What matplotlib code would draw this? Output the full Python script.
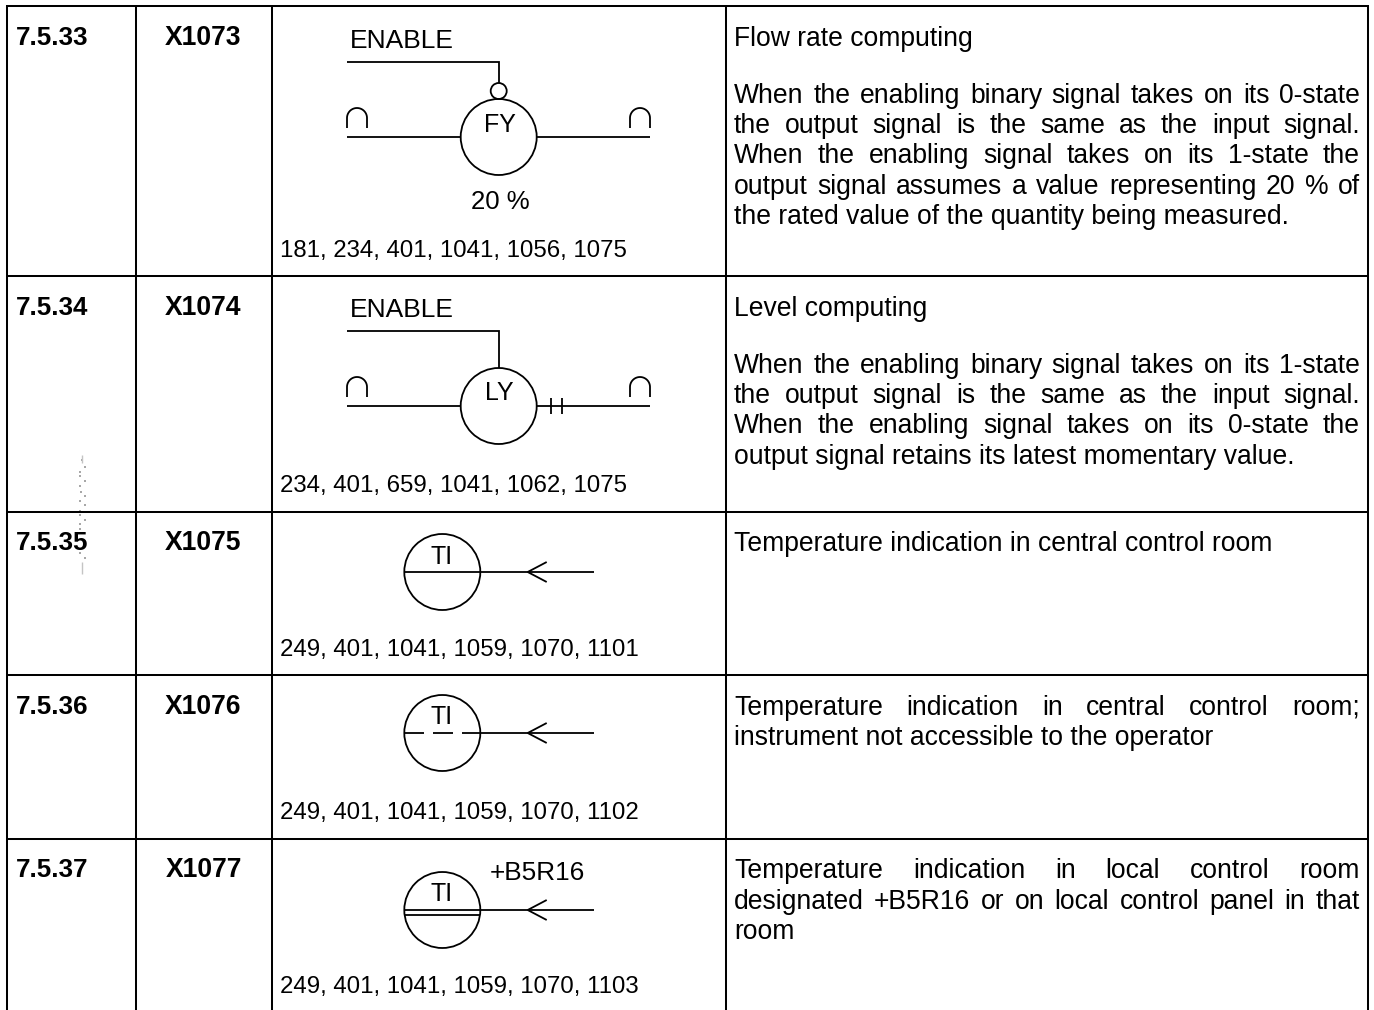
#!/usr/bin/env python3
"""
Instrumentation symbol table, rows 7.5.33 - 7.5.37.
Everything is placed in pixel coordinates of the page.
"""
import numpy as np
import matplotlib
matplotlib.use("Agg")
import matplotlib.pyplot as plt
from matplotlib.patches import Circle

plt.rcParams['font.family'] = ['Liberation Sans', 'DejaVu Sans']

W, H = 1374, 1010
FONT = 19.1
LW = 1.45
LW_SYM = 1.3

# table content
numbers = ["7.5.33", "7.5.34", "7.5.35", "7.5.36", "7.5.37"]
codes = ["X1073", "X1074", "X1075", "X1076", "X1077"]
refs = ["181, 234, 401, 1041, 1056, 1075",
        "234, 401, 659, 1041, 1062, 1075",
        "249, 401, 1041, 1059, 1070, 1101",
        "249, 401, 1041, 1059, 1070, 1102",
        "249, 401, 1041, 1059, 1070, 1103"]
tags = ["FY", "LY", "TI", "TI", "TI"]

# (text, baseline, justified)
desc_lines = [
    ("Flow rate computing", 46, False),
    ("When the enabling binary signal takes on its 0-state", 103, True),
    ("the output signal is the same as the input signal.", 133, True),
    ("When the enabling signal takes on its 1-state the", 163, True),
    ("output signal assumes a value representing 20 % of", 194, True),
    ("the rated value of the quantity being measured.", 224, False),
    ("Level computing", 316, False),
    ("When the enabling binary signal takes on its 1-state", 373, True),
    ("the output signal is the same as the input signal.", 403, True),
    ("When the enabling signal takes on its 0-state the", 433, True),
    ("output signal retains its latest momentary value.", 464, False),
    ("Temperature indication in central control room", 551, False),
    ("Temperature indication in central control room;", 715, True),
    ("instrument not accessible to the operator", 745, False),
    ("Temperature indication in local control room", 878, True),
    ("designated +B5R16 or on local control panel in that", 909, True),
    ("room", 939, False),
]

# page layout
col_x = [7, 136, 272, 726, 1368]
row_y = [6, 276, 512, 675, 839]
head_base = [45, 315, 550, 714, 877]
ref_base = [257, 492, 656, 819, 993]
symbol_y = [137, 406, 572, 733, 910]
tag_base = [132, 400, 564, 724, 901]
tag_x = [500, 499, 442, 442, 442]

# scan specks next to row 7.5.35
speck_x = [82, 85, 80, 80, 85, 80, 81, 85, 80, 85, 80, 80, 85, 80, 80, 80, 85]
speck_y = [460, 467, 472, 476, 481, 486, 492, 496, 501, 505, 511, 515, 520, 524, 529, 553, 558]

fig = plt.figure(figsize=(W / 100, H / 100), dpi=100)
ax = fig.add_axes([0, 0, 1, 1])
ax.set_xlim(0, W)
ax.set_ylim(H, 0)
ax.axis("off")
renderer = fig.canvas.get_renderer()


def line(xs, ys, lw=LW_SYM, color="black"):
    ax.plot(xs, ys, color=color, lw=lw, solid_capstyle="butt", solid_joinstyle="miter")


def circle(x, y, r):
    ax.add_patch(Circle((x, y), r, fill=False, edgecolor="black", lw=LW_SYM))


def label(x, y, s, ha="left", weight="normal", size=FONT):
    return ax.text(x, y, s, ha=ha, va="baseline", fontsize=size, fontweight=weight, color="black")


def cap(x, y):
    # small arch sign sitting above the signal line
    t = np.linspace(np.pi, 0, 30)
    xs = np.r_[x, x + 10 + 10 * np.cos(t), x + 20]
    ys = np.r_[y + 20, y + 10 - 10 * np.sin(t), y + 20]
    line(xs, ys)


def justified(s, left, right, y):
    words = s.split(" ")
    items = [label(left, y, w) for w in words]
    widths = [t.get_window_extent(renderer).width for t in items]
    gap = (right - left - sum(widths)) / (len(words) - 1)
    x = left
    for t, w in zip(items, widths):
        t.set_x(x)
        x += w + gap


def enable_symbol(y, bubble):
    label(350, y - 89, "ENABLE", size=19.0)
    line([347, 498.7, 498.7], [y - 75, y - 75, y - (54 if bubble else 38)])
    if bubble:
        circle(498.7, y - 46, 8)
    circle(498.7, y, 38)
    line([347, 461], [y, y])
    line([536.5, 650], [y, y])
    cap(347, y - 29)
    cap(630, y - 29)


def indicator_symbol(y, dashed=False, double=False):
    circle(442.3, y, 38)
    if dashed:
        line([405, 424], [y, y])
        line([433, 453], [y, y])
        line([462, 594], [y, y])
    else:
        line([405, 594], [y, y])
    if double:
        line([405, 480], [y + 5, y + 5])
    line([546.7, 527.7, 546.7], [y - 10, y, y + 10])


# grid
for x in col_x:
    line([x, x], [row_y[0] - 1, H], lw=LW)
for y in row_y:
    line([col_x[0] - 1, col_x[-1] + 1], [y, y], lw=LW)

ax.scatter(speck_x, speck_y, s=2.5, color="#a8a8a8", marker="s", linewidths=0)
line([82, 82], [455, 463], lw=1.0, color="#c4c4c4")
line([82, 82], [562, 574], lw=1.0, color="#c4c4c4")

# row labels and references
for num, code, ref, yb, rb in zip(numbers, codes, refs, head_base, ref_base):
    label(16, yb, num, weight="bold", size=18.7)
    label(203.5, yb, code, ha="center", weight="bold", size=19.1)
    label(279.5, rb, ref, size=17.3)

# symbols
enable_symbol(symbol_y[0], True)
enable_symbol(symbol_y[1], False)
line([551, 551], [398, 414])
line([562, 562], [398, 414])
indicator_symbol(symbol_y[2])
indicator_symbol(symbol_y[3], dashed=True)
indicator_symbol(symbol_y[4], double=True)

for tag, y, x in zip(tags, tag_base, tag_x):
    label(x, y, tag, ha="center", size=18.0)
label(500.7, 209, "20 %", ha="center", size=18.5)
label(537, 880, "+B5R16", ha="center", size=18.8)

# description column
for s, y, just in desc_lines:
    if just:
        justified(s, 734, 1360, y)
    else:
        label(734, y, s)

fig.savefig("out.png", dpi=100)
